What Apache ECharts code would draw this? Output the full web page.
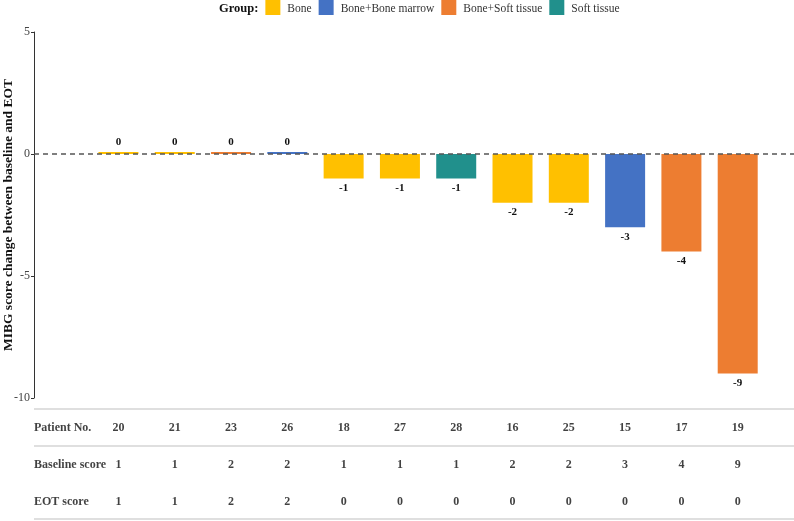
<!DOCTYPE html>
<html>
<head>
<meta charset="utf-8">
<script src="https://cdn.jsdelivr.net/npm/echarts@6/dist/echarts.min.js"></script>
<style>
  html, body { margin: 0; padding: 0; background: #fff; }
  #chart { width: 794px; height: 521px; }
</style>
</head>
<body>
<div id="chart"></div>
<script>
// 数据
const patients = ['20', '21', '23', '26', '18', '27', '28', '16', '25', '15', '17', '19'];
const groups = ['Bone', 'Bone', 'Bone+Soft tissue', 'Bone+Bone marrow', 'Bone', 'Bone', 'Soft tissue',
  'Bone', 'Bone', 'Bone+Bone marrow', 'Bone+Soft tissue', 'Bone+Soft tissue'];
const scoreChange = [0, 0, 0, 0, -1, -1, -1, -2, -2, -3, -4, -9];
const baselineScore = [1, 1, 2, 2, 1, 1, 1, 2, 2, 3, 4, 9];
const eotScore = [1, 1, 2, 2, 0, 0, 0, 0, 0, 0, 0, 0];
const groupNames = ['Bone', 'Bone+Bone marrow', 'Bone+Soft tissue', 'Soft tissue'];
const groupColors = ['#FFC000', '#4472C4', '#ED7D31', '#21908C'];
const rowLabels = ['Patient No.', 'Baseline score', 'EOT score'];
const yTicks = [-10, -5, 0, 5];

const FONT = '"Liberation Serif", "Times New Roman", serif';
const X_MIN = -1.5;
const X_MAX = 12;

const chart = echarts.init(document.getElementById('chart'));

// 每个分组一个柱状系列
const barSeries = groupNames.map((name, gi) => {
  const data = [];
  scoreChange.forEach((v, i) => {
    if (groups[i] === name) {
      data.push({
        value: [i, v],
        label: { position: v < 0 ? 'bottom' : 'top' }
      });
    }
  });
  return {
    name: name,
    type: 'bar',
    stack: 'all',
    xAxisIndex: 0,
    yAxisIndex: 0,
    barWidth: 40,
    barMinHeight: 2,
    itemStyle: { color: groupColors[gi] },
    label: {
      show: true,
      fontFamily: FONT,
      fontWeight: 'bold',
      fontSize: 11,
      color: '#111',
      distance: 4,
      formatter: p => p.value[1]
    },
    data: data
  };
});

// 表格行
const tableRows = [patients, baselineScore, eotScore];
const tableData = [];
tableRows.forEach((row, r) => {
  tableData.push({ value: [X_MIN, r + 0.5, rowLabels[r]], label: { align: 'left' } });
  row.forEach((v, i) => {
    tableData.push({ value: [i, r + 0.5, String(v)] });
  });
});

const option = {
  animation: false,
  legend: {
    top: 0,
    left: 197,
    padding: 0,
    itemWidth: 15,
    itemHeight: 15,
    itemGap: 7,
    icon: 'rect',
    data: [{ name: 'Group:', icon: 'none', itemStyle: { opacity: 0 } }].concat(groupNames),
    formatter: name => name === 'Group:' ? '{b|Group:}' : name,
    textStyle: {
      fontFamily: FONT, fontSize: 11.5, color: '#333', padding: [2, 0, 0, 2],
      rich: { b: { fontFamily: FONT, fontSize: 12.5, fontWeight: 'bold', color: '#111' } }
    },
    selectedMode: false
  },
  grid: [
    { left: 34, right: 0, top: 32, height: 366, outerBoundsMode: 'none', containLabel: false },
    { left: 34, right: 0, top: 409, height: 111, outerBoundsMode: 'none', containLabel: false }
  ],
  xAxis: [
    { type: 'value', gridIndex: 0, min: X_MIN, max: X_MAX, show: false },
    { type: 'value', gridIndex: 1, min: X_MIN, max: X_MAX, show: false }
  ],
  yAxis: [
    {
      type: 'value', gridIndex: 0, min: -10, max: 5, interval: 5,
      name: 'MIBG score change between baseline and EOT',
      nameLocation: 'middle',
      nameGap: 18,
      nameMoveOverlap: false,
      nameTextStyle: { fontFamily: FONT, fontWeight: 'bold', fontSize: 13.5, color: '#111' },
      axisLine: { show: true, onZero: false, lineStyle: { color: '#333', width: 1 } },
      axisTick: { show: true, length: 3, lineStyle: { color: '#333' } },
      axisLabel: {
        fontFamily: FONT, fontSize: 12, color: '#444', margin: 4,
        customValues: yTicks
      },
      splitLine: { show: false }
    },
    { type: 'value', gridIndex: 1, min: 0, max: 3, inverse: true, show: false }
  ],
  series: barSeries.concat([
    {
      name: 'Group:',
      type: 'line',
      xAxisIndex: 0,
      yAxisIndex: 0,
      data: [],
      markLine: {
        silent: true,
        symbol: 'none',
        z: 10,
        label: { show: false },
        lineStyle: { color: '#555', type: [5, 4], width: 1.5 },
        data: [{ yAxis: 0 }]
      }
    },
    {
      name: 'table',
      type: 'scatter',
      xAxisIndex: 1,
      yAxisIndex: 1,
      symbolSize: 0,
      silent: true,
      label: {
        show: true,
        position: 'inside',
        fontFamily: FONT,
        fontWeight: 'bold',
        fontSize: 12,
        color: '#111',
        formatter: p => p.value[2]
      },
      data: tableData,
      markLine: {
        silent: true,
        symbol: 'none',
        label: { show: false },
        lineStyle: { color: '#d4d4d4', type: 'solid', width: 1.5 },
        data: [{ yAxis: 0 }, { yAxis: 1 }, { yAxis: 2.97 }]
      }
    }
  ])
};

chart.setOption(option);
</script>
</body>
</html>
